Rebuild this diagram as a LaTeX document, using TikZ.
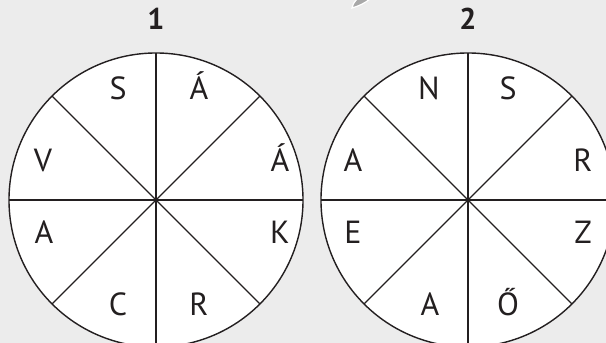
\documentclass[tikz,border=0pt]{standalone}
\usepackage{fontspec}
\setmainfont{PT Sans}
\definecolor{wheelbg}{RGB}{236,236,236}
\definecolor{wheelink}{RGB}{35,31,32}
\definecolor{wheelfold}{RGB}{168,168,168}

\begin{document}
\begin{tikzpicture}[x=1pt,y=1pt,font=\fontsize{32}{34}\selectfont,
  wheel/.style={circle,draw=wheelink,fill=white,line width=1.4pt,
    minimum size=294pt,inner sep=0pt,outer sep=0pt},
  spoke/.style={draw=wheelink,line width=1.1pt},
  letter/.style={anchor=base,text=wheelink,inner sep=0pt},
  number/.style={letter,font=\fontsize{30}{32}\selectfont\bfseries}]
\fill[wheelbg] (0,0) rectangle (606,343);
\path[use as bounding box] (0,0) rectangle (606,343);
\clip (0,0) rectangle (606,343);
% tip of a shape cut off by the top edge
\filldraw[fill=wheelfold,draw=white,line width=1.2pt] (357,344)
 .. controls (353,339) .. (352,335) .. controls (359,337) and (365,340) .. (370,344);
\node[number] (numA) at (156,313) {1};
\node[number] (numB) at (468,313) {2};
\node[wheel] (wheelA) at (156,143) {};
\node[wheel] (wheelB) at (468,143) {};
\foreach \w in {wheelA,wheelB}
  \foreach \a/\b in {0/180,45/225,90/270,135/315}
    \draw[spoke] (\w.\a) -- (\w.\b);
% first wheel
\node[letter] (a1) at (118,243) {S};
\node[letter] (a2) at (199,243) {Á};
\node[letter] (a3) at (43,171) {V};
\node[letter] (a4) at (280,171) {Á};
\node[letter] (a5) at (44,99) {A};
\node[letter] (a6) at (280,99) {K};
\node[letter] (a7) at (118,27) {C};
\node[letter] (a8) at (199,27) {R};
% second wheel
\node[letter] (b1) at (429,243) {N};
\node[letter] (b2) at (508,243) {S};
\node[letter] (b3) at (353,171) {A};
\node[letter] (b4) at (583,171) {R};
\node[letter] (b5) at (353,99) {E};
\node[letter] (b6) at (583,99) {Z};
\node[letter] (b7) at (430,27) {A};
\node[letter] (b8) at (508,27) {Ő};
\end{tikzpicture}
\end{document}
